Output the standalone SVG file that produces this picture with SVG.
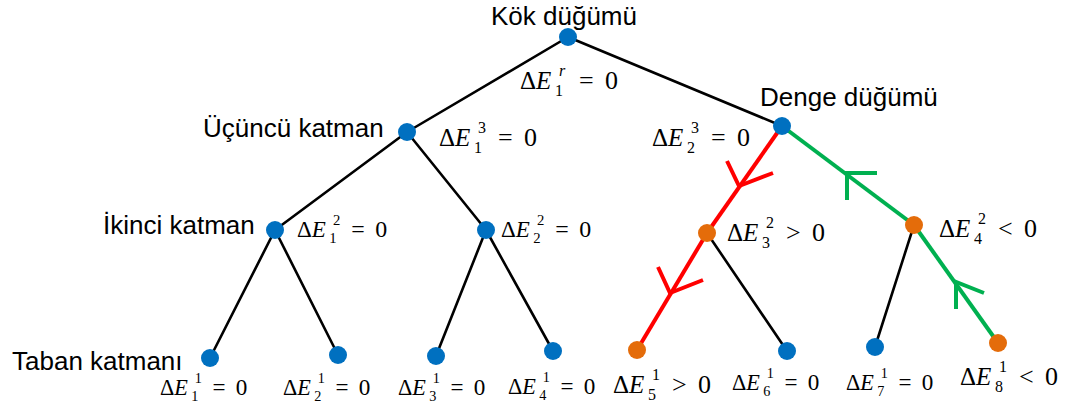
<svg xmlns="http://www.w3.org/2000/svg" width="1069" height="410" viewBox="0 0 1069 410">
<style>
.lbl{font-family:"Liberation Sans",Arial,sans-serif;font-size:26px;fill:#000}
.m{font-family:"Liberation Serif","Times New Roman",serif;font-size:25px;fill:#000}
.i{font-style:italic}
.s{font-size:16px}
.op{font-size:26px}
.blk{stroke:#000;stroke-width:2.6;fill:none;stroke-linecap:round}
.red{stroke:#FF0000;stroke-width:4;fill:none}
.grn{stroke:#00B050;stroke-width:4;fill:none}
.b{fill:#0070C0}
.o{fill:#E46C0A}
</style>
<rect width="1069" height="410" fill="#fff"/>
<g id="connectors">
<line class="blk" x1="568" y1="37" x2="407" y2="132"/>
<line class="blk" x1="568" y1="37" x2="782" y2="126"/>
<line class="blk" x1="407" y1="132" x2="275" y2="230"/>
<line class="blk" x1="407" y1="132" x2="486" y2="230"/>
<line class="blk" x1="275" y1="230" x2="210" y2="358"/>
<line class="blk" x1="275" y1="230" x2="338" y2="355"/>
<line class="blk" x1="486" y1="230" x2="436" y2="356"/>
<line class="blk" x1="486" y1="230" x2="553" y2="351"/>
<line class="blk" x1="707" y1="233" x2="787" y2="351"/>
<line class="blk" x1="914" y1="225" x2="875" y2="347"/>
<line class="red" x1="782" y1="126" x2="707" y2="233"/>
<line class="red" x1="707" y1="233" x2="637" y2="350"/>
<polyline class="red" points="727,161 739,186 773,173"/>
<polyline class="red" points="658,267 670,293 703,280"/>
<line class="grn" x1="782" y1="126" x2="914" y2="225"/>
<line class="grn" x1="914" y1="225" x2="998" y2="343"/>
<polyline class="grn" points="847,200 847,173 877,173"/>
<polyline class="grn" points="956,309 956,282 984,293"/>
</g>
<g id="root">
<circle class="b" cx="568" cy="37" r="9"/>
<text class="lbl" x="491" y="25">Kök düğümü</text>
<text class="m" transform="translate(520,89)"><tspan x="0" y="0">Δ</tspan><tspan class="i" x="16" y="0">E</tspan><tspan class="s" x="35" y="7">1</tspan><tspan class="s i" x="39" y="-13">r</tspan><tspan class="op" x="59" y="0">=</tspan><tspan class="op" x="85" y="0">0</tspan></text>
</g>
<g id="third-layer">
<circle class="b" cx="407" cy="132" r="9"/>
<text class="lbl" x="203" y="137">Üçüncü katman</text>
<text class="m" transform="translate(439,146)"><tspan x="0" y="0">Δ</tspan><tspan class="i" x="16" y="0">E</tspan><tspan class="s" x="35" y="7">1</tspan><tspan class="s" x="39" y="-13">3</tspan><tspan class="op" x="59" y="0">=</tspan><tspan class="op" x="85" y="0">0</tspan></text>
</g>
<g id="balance-node">
<circle class="b" cx="782" cy="126" r="9"/>
<text class="lbl" x="760" y="106">Denge düğümü</text>
<text class="m" transform="translate(652,146)"><tspan x="0" y="0">Δ</tspan><tspan class="i" x="16" y="0">E</tspan><tspan class="s" x="35" y="7">2</tspan><tspan class="s" x="39" y="-13">3</tspan><tspan class="op" x="59" y="0">=</tspan><tspan class="op" x="85" y="0">0</tspan></text>
</g>
<g id="second-1">
<circle class="b" cx="275" cy="230" r="9"/>
<text class="lbl" x="103" y="234">İkinci katman</text>
<text class="m" transform="translate(297,237) scale(0.92)"><tspan x="0" y="0">Δ</tspan><tspan class="i" x="16" y="0">E</tspan><tspan class="s" x="35" y="7">1</tspan><tspan class="s" x="39" y="-13">2</tspan><tspan class="op" x="59" y="0">=</tspan><tspan class="op" x="85" y="0">0</tspan></text>
</g>
<g id="second-2">
<circle class="b" cx="486" cy="230" r="9"/>
<text class="m" transform="translate(501,237) scale(0.92)"><tspan x="0" y="0">Δ</tspan><tspan class="i" x="16" y="0">E</tspan><tspan class="s" x="35" y="7">2</tspan><tspan class="s" x="39" y="-13">2</tspan><tspan class="op" x="59" y="0">=</tspan><tspan class="op" x="85" y="0">0</tspan></text>
</g>
<g id="second-3">
<circle class="o" cx="707" cy="233" r="9"/>
<text class="m" transform="translate(727,241)"><tspan x="0" y="0">Δ</tspan><tspan class="i" x="16" y="0">E</tspan><tspan class="s" x="35" y="7">3</tspan><tspan class="s" x="39" y="-13">2</tspan><tspan class="op" x="59" y="0">&gt;</tspan><tspan class="op" x="85" y="0">0</tspan></text>
</g>
<g id="second-4">
<circle class="o" cx="914" cy="225" r="9"/>
<text class="m" transform="translate(939,237)"><tspan x="0" y="0">Δ</tspan><tspan class="i" x="16" y="0">E</tspan><tspan class="s" x="35" y="7">4</tspan><tspan class="s" x="39" y="-13">2</tspan><tspan class="op" x="59" y="0">&lt;</tspan><tspan class="op" x="85" y="0">0</tspan></text>
</g>
<g id="leaf-1">
<circle class="b" cx="210" cy="358" r="9"/>
<text class="lbl" x="12" y="370">Taban katmanı</text>
<text class="m" transform="translate(160,395) scale(0.89)"><tspan x="0" y="0">Δ</tspan><tspan class="i" x="16" y="0">E</tspan><tspan class="s" x="35" y="7">1</tspan><tspan class="s" x="39" y="-13">1</tspan><tspan class="op" x="59" y="0">=</tspan><tspan class="op" x="85" y="0">0</tspan></text>
</g>
<g id="leaf-2">
<circle class="b" cx="338" cy="355" r="9"/>
<text class="m" transform="translate(283,395) scale(0.89)"><tspan x="0" y="0">Δ</tspan><tspan class="i" x="16" y="0">E</tspan><tspan class="s" x="35" y="7">2</tspan><tspan class="s" x="39" y="-13">1</tspan><tspan class="op" x="59" y="0">=</tspan><tspan class="op" x="85" y="0">0</tspan></text>
</g>
<g id="leaf-3">
<circle class="b" cx="436" cy="356" r="9"/>
<text class="m" transform="translate(398,395) scale(0.89)"><tspan x="0" y="0">Δ</tspan><tspan class="i" x="16" y="0">E</tspan><tspan class="s" x="35" y="7">3</tspan><tspan class="s" x="39" y="-13">1</tspan><tspan class="op" x="59" y="0">=</tspan><tspan class="op" x="85" y="0">0</tspan></text>
</g>
<g id="leaf-4">
<circle class="b" cx="553" cy="351" r="9"/>
<text class="m" transform="translate(508,394) scale(0.89)"><tspan x="0" y="0">Δ</tspan><tspan class="i" x="16" y="0">E</tspan><tspan class="s" x="35" y="7">4</tspan><tspan class="s" x="39" y="-13">1</tspan><tspan class="op" x="59" y="0">=</tspan><tspan class="op" x="85" y="0">0</tspan></text>
</g>
<g id="leaf-5">
<circle class="o" cx="637" cy="350" r="9"/>
<text class="m" transform="translate(613,393)"><tspan x="0" y="0">Δ</tspan><tspan class="i" x="16" y="0">E</tspan><tspan class="s" x="35" y="7">5</tspan><tspan class="s" x="39" y="-13">1</tspan><tspan class="op" x="59" y="0">&gt;</tspan><tspan class="op" x="85" y="0">0</tspan></text>
</g>
<g id="leaf-6">
<circle class="b" cx="787" cy="351" r="9"/>
<text class="m" transform="translate(732,390) scale(0.89)"><tspan x="0" y="0">Δ</tspan><tspan class="i" x="16" y="0">E</tspan><tspan class="s" x="35" y="7">6</tspan><tspan class="s" x="39" y="-13">1</tspan><tspan class="op" x="59" y="0">=</tspan><tspan class="op" x="85" y="0">0</tspan></text>
</g>
<g id="leaf-7">
<circle class="b" cx="875" cy="347" r="9"/>
<text class="m" transform="translate(846,390) scale(0.89)"><tspan x="0" y="0">Δ</tspan><tspan class="i" x="16" y="0">E</tspan><tspan class="s" x="35" y="7">7</tspan><tspan class="s" x="39" y="-13">1</tspan><tspan class="op" x="59" y="0">=</tspan><tspan class="op" x="85" y="0">0</tspan></text>
</g>
<g id="leaf-8">
<circle class="o" cx="998" cy="343" r="9"/>
<text class="m" transform="translate(960,385)"><tspan x="0" y="0">Δ</tspan><tspan class="i" x="16" y="0">E</tspan><tspan class="s" x="35" y="7">8</tspan><tspan class="s" x="39" y="-13">1</tspan><tspan class="op" x="59" y="0">&lt;</tspan><tspan class="op" x="85" y="0">0</tspan></text>
</g>
</svg>
